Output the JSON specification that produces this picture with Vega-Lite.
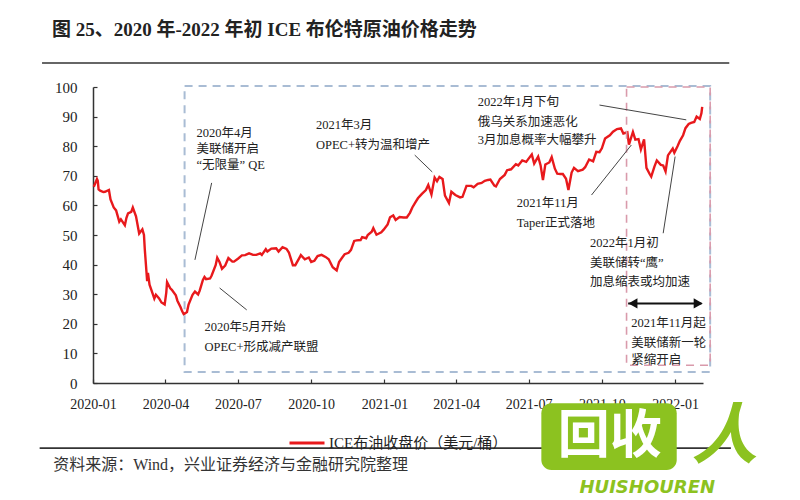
{
  "$schema": "https://vega.github.io/schema/vega-lite/v6.json",
  "autosize": {"type": "none"},
  "padding": {"left": 93, "top": 87, "right": 97, "bottom": 117},
  "width": 610,
  "height": 296,
  "background": "white",
  "config": {"view": {"stroke": null}},
  "title": {"text": "图 25、2020 年-2022 年初 ICE 布伦特原油价格走势", "anchor": "start", "frame": "group", "dx": -41, "offset": 22, "font": "Liberation Serif, Noto Sans CJK SC", "fontSize": 19, "fontWeight": "bold", "color": "#222222"},
  "encoding": {
    "x": {"field": "d", "type": "temporal",
      "scale": {"domain": [{"year": 2020, "month": 1, "date": 1}, {"year": 2022, "month": 2, "date": 5}]},
      "axis": {"title": null, "format": "%Y-%m", "grid": false, "labelOverlap": false,
        "values": [{"year":2020,"month":1,"date":1},{"year":2020,"month":4,"date":1},{"year":2020,"month":7,"date":1},{"year":2020,"month":10,"date":1},{"year":2021,"month":1,"date":1},{"year":2021,"month":4,"date":1},{"year":2021,"month":7,"date":1},{"year":2021,"month":10,"date":1},{"year":2022,"month":1,"date":1}],
        "domainColor": "#333333", "domainWidth": 1.5, "tickColor": "#333333", "tickSize": -4, "tickWidth": 1.2,
        "labelFont": "Liberation Serif", "labelFontSize": 14, "labelColor": "#222222", "labelPadding": 18, "labelFlush": false}},
    "y": {"field": "v", "type": "quantitative",
      "scale": {"domain": [0, 100]},
      "axis": {"title": null, "grid": false, "labelOverlap": false, "values": [0,10,20,30,40,50,60,70,80,90,100],
        "domainColor": "#333333", "domainWidth": 1.5, "tickColor": "#333333", "tickSize": -4, "tickWidth": 1.2,
        "labelFont": "Liberation Serif", "labelFontSize": 15, "labelColor": "#222222", "labelPadding": 20}}
  },
  "layer": [
    {
      "data": {"values": [
        {"d":"2020-01-02","v":66.3},{"d":"2020-01-06","v":68.9},{"d":"2020-01-07","v":68.3},{"d":"2020-01-08","v":65.4},{"d":"2020-01-10","v":65.0},{"d":"2020-01-14","v":64.5},{"d":"2020-01-16","v":64.6},{"d":"2020-01-21","v":65.2},{"d":"2020-01-23","v":62.0},{"d":"2020-01-27","v":59.3},{"d":"2020-01-30","v":58.3},
        {"d":"2020-02-03","v":54.5},{"d":"2020-02-05","v":55.3},{"d":"2020-02-07","v":54.5},{"d":"2020-02-10","v":53.3},{"d":"2020-02-12","v":55.8},{"d":"2020-02-14","v":57.3},{"d":"2020-02-18","v":57.8},{"d":"2020-02-20","v":59.3},{"d":"2020-02-24","v":56.3},{"d":"2020-02-26","v":53.4},{"d":"2020-02-28","v":50.5},
        {"d":"2020-03-03","v":51.9},{"d":"2020-03-05","v":50.0},{"d":"2020-03-06","v":45.3},{"d":"2020-03-09","v":34.4},{"d":"2020-03-10","v":37.2},{"d":"2020-03-12","v":33.2},{"d":"2020-03-16","v":30.1},{"d":"2020-03-18","v":28.5},{"d":"2020-03-20","v":29.8},{"d":"2020-03-24","v":28.6},{"d":"2020-03-27","v":27.2},{"d":"2020-03-31","v":26.5},
        {"d":"2020-04-02","v":30.5},{"d":"2020-04-03","v":34.1},{"d":"2020-04-07","v":32.0},{"d":"2020-04-09","v":31.5},{"d":"2020-04-14","v":29.6},{"d":"2020-04-16","v":27.8},{"d":"2020-04-20","v":25.6},{"d":"2020-04-22","v":24.2},{"d":"2020-04-24","v":23.2},{"d":"2020-04-28","v":24.0},{"d":"2020-04-30","v":26.5},
        {"d":"2020-05-05","v":29.8},{"d":"2020-05-08","v":30.9},{"d":"2020-05-12","v":29.9},{"d":"2020-05-14","v":31.2},{"d":"2020-05-18","v":34.8},{"d":"2020-05-20","v":35.8},{"d":"2020-05-22","v":35.1},{"d":"2020-05-27","v":35.3},{"d":"2020-05-29","v":36.3},
        {"d":"2020-06-03","v":39.8},{"d":"2020-06-05","v":42.3},{"d":"2020-06-08","v":40.8},{"d":"2020-06-11","v":38.6},{"d":"2020-06-15","v":39.7},{"d":"2020-06-19","v":42.2},{"d":"2020-06-24","v":41.0},{"d":"2020-06-26","v":41.0},
        {"d":"2020-07-01","v":42.0},{"d":"2020-07-06","v":43.1},{"d":"2020-07-10","v":43.2},{"d":"2020-07-15","v":43.8},{"d":"2020-07-20","v":43.3},{"d":"2020-07-24","v":43.3},{"d":"2020-07-29","v":43.8},{"d":"2020-07-31","v":43.3},
        {"d":"2020-08-05","v":45.2},{"d":"2020-08-07","v":44.4},{"d":"2020-08-12","v":45.4},{"d":"2020-08-18","v":45.5},{"d":"2020-08-21","v":44.4},{"d":"2020-08-26","v":45.9},{"d":"2020-08-31","v":45.3},
        {"d":"2020-09-03","v":44.1},{"d":"2020-09-08","v":39.8},{"d":"2020-09-11","v":39.8},{"d":"2020-09-16","v":42.2},{"d":"2020-09-18","v":43.2},{"d":"2020-09-23","v":41.8},{"d":"2020-09-28","v":42.4},
        {"d":"2020-10-01","v":40.9},{"d":"2020-10-05","v":41.3},{"d":"2020-10-09","v":42.9},{"d":"2020-10-14","v":43.3},{"d":"2020-10-19","v":42.6},{"d":"2020-10-23","v":41.8},{"d":"2020-10-28","v":39.1},
        {"d":"2020-11-02","v":38.0},{"d":"2020-11-05","v":40.9},{"d":"2020-11-09","v":42.4},{"d":"2020-11-12","v":43.5},{"d":"2020-11-17","v":44.0},{"d":"2020-11-20","v":45.0},{"d":"2020-11-24","v":48.0},{"d":"2020-11-27","v":48.2},
        {"d":"2020-12-02","v":48.3},{"d":"2020-12-04","v":49.3},{"d":"2020-12-09","v":48.9},{"d":"2020-12-11","v":50.0},{"d":"2020-12-16","v":51.1},{"d":"2020-12-18","v":52.3},{"d":"2020-12-22","v":50.1},{"d":"2020-12-28","v":50.9},{"d":"2020-12-31","v":51.8},
        {"d":"2021-01-05","v":53.6},{"d":"2021-01-08","v":56.0},{"d":"2021-01-12","v":56.6},{"d":"2021-01-15","v":55.1},{"d":"2021-01-20","v":56.1},{"d":"2021-01-25","v":55.9},{"d":"2021-01-29","v":55.9},
        {"d":"2021-02-02","v":57.5},{"d":"2021-02-05","v":59.3},{"d":"2021-02-09","v":61.1},{"d":"2021-02-12","v":62.4},{"d":"2021-02-17","v":63.9},{"d":"2021-02-22","v":65.2},{"d":"2021-02-25","v":66.9},
        {"d":"2021-03-01","v":63.7},{"d":"2021-03-05","v":69.4},{"d":"2021-03-08","v":68.2},{"d":"2021-03-11","v":69.6},{"d":"2021-03-15","v":68.9},{"d":"2021-03-18","v":63.3},{"d":"2021-03-23","v":60.8},{"d":"2021-03-26","v":64.6},{"d":"2021-03-31","v":63.5},
        {"d":"2021-04-06","v":62.7},{"d":"2021-04-09","v":62.9},{"d":"2021-04-14","v":66.6},{"d":"2021-04-20","v":66.6},{"d":"2021-04-23","v":66.1},{"d":"2021-04-28","v":67.3},
        {"d":"2021-05-03","v":67.6},{"d":"2021-05-07","v":68.3},{"d":"2021-05-11","v":68.6},{"d":"2021-05-14","v":68.7},{"d":"2021-05-19","v":66.7},{"d":"2021-05-21","v":66.4},{"d":"2021-05-26","v":68.9},
        {"d":"2021-06-01","v":70.3},{"d":"2021-06-04","v":71.9},{"d":"2021-06-09","v":72.2},{"d":"2021-06-15","v":73.9},{"d":"2021-06-18","v":73.5},{"d":"2021-06-23","v":75.2},{"d":"2021-06-28","v":74.7},
        {"d":"2021-07-01","v":75.8},{"d":"2021-07-05","v":77.2},{"d":"2021-07-08","v":74.1},{"d":"2021-07-13","v":76.5},{"d":"2021-07-16","v":73.6},{"d":"2021-07-19","v":68.6},{"d":"2021-07-22","v":73.8},{"d":"2021-07-27","v":74.5},{"d":"2021-07-30","v":76.3},
        {"d":"2021-08-03","v":72.4},{"d":"2021-08-06","v":70.7},{"d":"2021-08-10","v":70.6},{"d":"2021-08-13","v":70.6},{"d":"2021-08-17","v":69.0},{"d":"2021-08-20","v":65.2},{"d":"2021-08-24","v":71.1},{"d":"2021-08-27","v":72.7},
        {"d":"2021-09-01","v":71.6},{"d":"2021-09-07","v":72.1},{"d":"2021-09-10","v":72.9},{"d":"2021-09-15","v":75.5},{"d":"2021-09-20","v":74.9},{"d":"2021-09-24","v":78.1},{"d":"2021-09-28","v":78.0},
        {"d":"2021-10-01","v":79.3},{"d":"2021-10-05","v":82.6},{"d":"2021-10-11","v":83.7},{"d":"2021-10-15","v":84.9},{"d":"2021-10-20","v":85.8},{"d":"2021-10-25","v":86.0},{"d":"2021-10-28","v":84.3},
        {"d":"2021-11-02","v":84.7},{"d":"2021-11-04","v":80.5},{"d":"2021-11-09","v":84.8},{"d":"2021-11-12","v":82.2},{"d":"2021-11-16","v":82.4},{"d":"2021-11-19","v":78.9},{"d":"2021-11-23","v":82.3},{"d":"2021-11-26","v":72.7},{"d":"2021-11-30","v":70.6},
        {"d":"2021-12-02","v":69.7},{"d":"2021-12-06","v":73.1},{"d":"2021-12-09","v":75.2},{"d":"2021-12-14","v":73.7},{"d":"2021-12-17","v":73.5},{"d":"2021-12-20","v":71.5},{"d":"2021-12-23","v":76.9},{"d":"2021-12-29","v":79.2},{"d":"2021-12-31","v":77.8},
        {"d":"2022-01-04","v":80.0},{"d":"2022-01-07","v":81.8},{"d":"2022-01-11","v":83.7},{"d":"2022-01-14","v":86.1},{"d":"2022-01-18","v":87.5},{"d":"2022-01-21","v":87.9},{"d":"2022-01-25","v":88.2},{"d":"2022-01-28","v":90.0},
        {"d":"2022-02-01","v":89.2},{"d":"2022-02-03","v":91.1},{"d":"2022-02-04","v":93.3}
      ]},
      "mark": {"type": "line", "strokeWidth": 2.4, "interpolate": "linear"},
      "encoding": {
        "color": {"datum": "ICE布油收盘价（美元/桶）", "type": "nominal",
          "scale": {"range": ["#e8191c"]},
          "legend": {"title": null, "orient": "none", "legendX": 195, "legendY": 337, "symbolType": "stroke", "symbolSize": 1225, "symbolStrokeWidth": 3, "symbolStrokeColor": "#d9505a", "labelFont": "Liberation Serif, Noto Sans CJK SC", "labelFontSize": 15, "labelColor": "#222222", "labelOffset": 3, "labelLimit": 0, "padding": 0}}
      }
    },
    {
      "data": {"values": [{"d": "2020-04-25", "d2": "2022-02-14", "v": 3.7, "v2": 100.3}]},
      "mark": {"type": "rect", "fill": null, "stroke": "#a9bcd4", "strokeWidth": 2, "strokeDash": [8, 6]},
      "encoding": {"x2": {"field": "d2"}, "y2": {"field": "v2"}}
    },
    {
      "data": {"values": [{"d": "2021-11-01", "d2": "2022-02-14", "v": 6, "v2": 100}]},
      "mark": {"type": "rect", "fill": null, "stroke": "#d99aab", "strokeWidth": 1.6, "strokeDash": [8, 6]},
      "encoding": {"x2": {"field": "d2"}, "y2": {"field": "v2"}}
    },
    {
      "data": {"values": [
        {"d":"2020-05-29","v":67.6,"d2":"2020-05-08","v2":41.6},
        {"d":"2020-06-08","v":32.1,"d2":"2020-07-12","v2":24.7},
        {"d":"2021-02-08","v":77.0,"d2":"2021-03-02","v2":71.3},
        {"d":"2021-09-28","v":93.9,"d2":"2022-01-15","v2":88.9},
        {"d":"2021-09-18","v":63.5,"d2":"2021-11-07","v2":80.4},
        {"d":"2021-12-17","v":50.6,"d2":"2022-01-01","v2":76.5}
      ]},
      "mark": {"type": "rule", "color": "#444444", "strokeWidth": 1},
      "encoding": {"x2": {"field": "d2"}, "y2": {"field": "v2"}}
    },
    {
      "data": {"values": [{"d":"2021-11-03","d2":"2022-02-03","v":26.9}]},
      "mark": {"type": "rule", "color": "#111111", "strokeWidth": 2},
      "encoding": {"x2": {"field": "d2"}}
    },
    {
      "data": {"values": [{"d":"2021-11-09","v":26.9,"s":"left"},{"d":"2022-01-30","v":26.9,"s":"right"}]},
      "mark": {"type": "point", "filled": true, "color": "#111111", "size": 110, "opacity": 1},
      "encoding": {
        "shape": {"field": "s", "type": "nominal", "scale": {"domain": ["left", "right"], "range": ["triangle-left", "triangle-right"]}, "legend": null}
      }
    },
    {
      "data": {"values": [
        {"d":"2020-05-10","v":84.5,"t":"2020年4月"},
        {"d":"2020-05-10","v":79.2,"t":"美联储开启"},
        {"d":"2020-05-10","v":73.6,"t":"“无限量” QE"},
        {"d":"2020-05-20","v":18.9,"t":"2020年5月开始"},
        {"d":"2020-05-20","v":12.2,"t":"OPEC+形成减产联盟"},
        {"d":"2020-10-07","v":87.2,"t":"2021年3月"},
        {"d":"2020-10-07","v":80.4,"t":"OPEC+转为温和增产"},
        {"d":"2021-04-28","v":95.0,"t":"2022年1月下旬"},
        {"d":"2021-04-28","v":88.3,"t":"俄乌关系加速恶化"},
        {"d":"2021-04-28","v":82.1,"t":"3月加息概率大幅攀升"},
        {"d":"2021-06-16","v":60.7,"t":"2021年11月"},
        {"d":"2021-06-16","v":53.9,"t":"Taper正式落地"},
        {"d":"2021-09-16","v":47.2,"t":"2022年1月初"},
        {"d":"2021-09-16","v":40.4,"t":"美联储转“鹰”"},
        {"d":"2021-09-16","v":34.0,"t":"加息缩表或均加速"},
        {"d":"2021-11-07","v":20.4,"t":"2021年11月起"},
        {"d":"2021-11-07","v":13.6,"t":"美联储新一轮"},
        {"d":"2021-11-07","v":7.8,"t":"紧缩开启"}
      ]},
      "mark": {"type": "text", "align": "left", "baseline": "middle", "font": "Liberation Serif, Noto Sans CJK SC", "fontSize": 12.5, "color": "#222222"},
      "encoding": {"text": {"field": "t"}}
    },
    {
      "data": {"values": [{"d":"2019-10-29","d2":"2022-03-10","v":108.1},{"d":"2019-10-26","d2":"2022-03-12","v":-22.0}]},
      "mark": {"type": "rule", "color": "#333333", "strokeWidth": 1.6},
      "encoding": {"x2": {"field": "d2"}}
    },
    {
      "data": {"values": [{"d":"2019-11-12","v":-27.7,"t":"资料来源：Wind，兴业证券经济与金融研究院整理"}]},
      "mark": {"type": "text", "align": "left", "baseline": "middle", "font": "Liberation Serif, Noto Sans CJK SC", "fontSize": 16, "color": "#333333"},
      "encoding": {"text": {"field": "t"}}
    },
    {
      "data": {"values": [{"d":"2021-07-17","d2":"2022-01-03","v":-6.8,"v2":-29.4}]},
      "mark": {"type": "rect", "fill": "#8cc220", "cornerRadius": 10},
      "encoding": {"x2": {"field": "d2"}, "y2": {"field": "v2"}}
    },
    {
      "data": {"values": [{"d":"2021-10-11","v":-18.4,"t":"回收"}]},
      "mark": {"type": "text", "align": "center", "baseline": "middle", "font": "Noto Sans CJK SC", "fontWeight": "bold", "fontSize": 52, "color": "#ffffff"},
      "encoding": {"text": {"field": "t"}}
    },
    {
      "data": {"values": [{"d":"2021-11-27","v":-35.5,"t":"HUISHOUREN"},{"d":"2022-03-04","v":-18.6,"t":"人"}]},
      "mark": {"type": "text", "align": "center", "baseline": "middle", "font": "DejaVu Sans, Noto Sans CJK SC", "fontWeight": "bold", "fontStyle": "italic", "color": "#8cc220"},
      "encoding": {
        "text": {"field": "t"},
        "size": {"field": "t", "type": "nominal", "scale": {"domain": ["HUISHOUREN", "人"], "range": [18, 66]}, "legend": null}
      }
    }
  ]
}
